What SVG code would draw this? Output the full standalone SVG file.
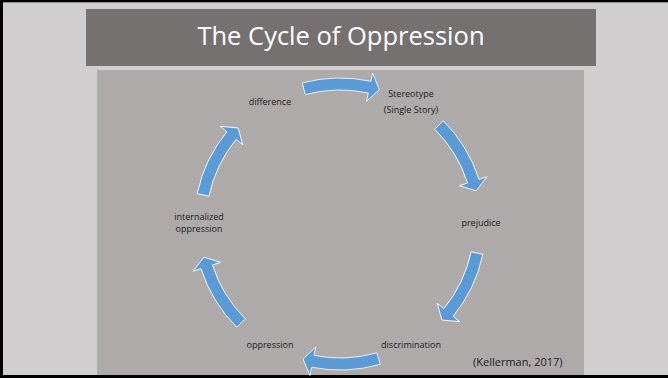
<svg xmlns="http://www.w3.org/2000/svg" xmlns:xlink="http://www.w3.org/1999/xlink" width="668" height="378" viewBox="0 0 668 378">
  <style>
    .lbl { font-family: "Open Sans", "Liberation Sans", sans-serif; font-size: 9px; fill: #1c1c1c; text-anchor: middle; }
    .title { font-family: "Open Sans", "Liberation Sans", sans-serif; font-size: 25.5px; fill: #ffffff; text-anchor: middle; }
    .cite { font-family: "Open Sans", "Liberation Sans", sans-serif; font-size: 11px; fill: #1c1c1c; }
    .arc { fill: #5B9BD5; stroke: #ffffff; stroke-width: 0.8; stroke-linejoin: miter; }
  </style>
  <defs>
    <path id="arc" d="M140.34,-40.24 A146,146 0 0 1 143.22,28.36 L151.56,30.01 L135.04,36.94 L123.11,24.38 L131.45,26.03 A134,134 0 0 0 128.81,-36.94 Z"/>
  </defs>
  <rect x="0" y="0" width="668" height="378" fill="#D0CECE"/>
  <rect x="0" y="0" width="668" height="2.3" fill="#000000"/>
  <rect x="0" y="0" width="3" height="378" fill="#000000"/>
  <rect x="0" y="375" width="668" height="3" fill="#000000"/>
  <g id="title">
    <rect x="86" y="9" width="510" height="57" fill="#767171"/>
    <text class="title" x="341" y="45">The Cycle of Oppression</text>
  </g>
  <rect id="panel" x="97" y="70" width="487" height="305" fill="#AEAAAA"/>
  <g id="connectors">
    <use xlink:href="#arc" class="arc" transform="translate(340,224) rotate(-89)"/>
    <use xlink:href="#arc" class="arc" transform="translate(340,224) rotate(-29)"/>
    <use xlink:href="#arc" class="arc" transform="translate(340,224) rotate(28)"/>
    <use xlink:href="#arc" class="arc" transform="translate(340,224) rotate(90)"/>
    <use xlink:href="#arc" class="arc" transform="translate(340,224) rotate(151)"/>
    <use xlink:href="#arc" class="arc" transform="translate(340,224) rotate(208)"/>
  </g>
  <g id="node-difference"><text class="lbl" x="270" y="105">difference</text></g>
  <g id="node-stereotype">
    <text class="lbl" x="411" y="97">Stereotype</text>
    <text class="lbl" x="411" y="113">(Single Story)</text>
  </g>
  <g id="node-prejudice"><text class="lbl" x="481" y="226">prejudice</text></g>
  <g id="node-discrimination"><text class="lbl" x="411" y="348">discrimination</text></g>
  <g id="node-oppression"><text class="lbl" x="270" y="348">oppression</text></g>
  <g id="node-internalized">
    <text class="lbl" x="199" y="220">internalized</text>
    <text class="lbl" x="199" y="232">oppression</text>
  </g>
  <g id="citation"><text class="cite" x="473" y="366">(Kellerman, 2017)</text></g>
</svg>
